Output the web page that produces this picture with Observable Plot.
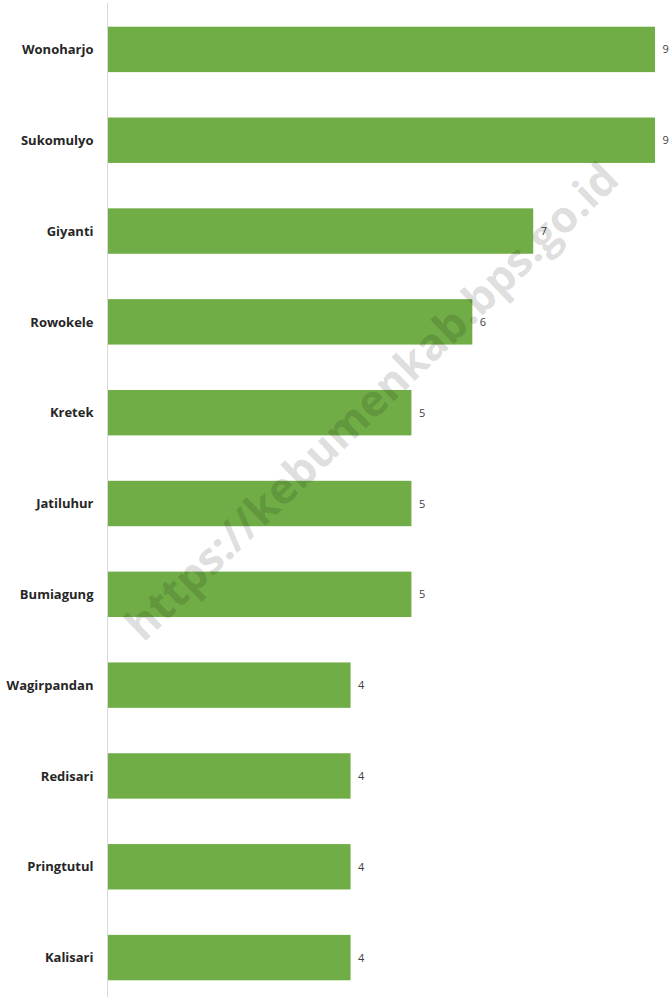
<!DOCTYPE html>
<html>
<head>
<meta charset="utf-8">
<script src="https://cdn.jsdelivr.net/npm/d3@7"></script>
<script src="https://cdn.jsdelivr.net/npm/@observablehq/plot@0.6"></script>
<style>
  html, body { margin: 0; padding: 0; background: #fff; }
  #chart svg { display: block; }
</style>
</head>
<body>
<div id="chart"></div>
<script>
const villages = ["Wonoharjo", "Sukomulyo", "Giyanti", "Rowokele", "Kretek", "Jatiluhur", "Bumiagung", "Wagirpandan", "Redisari", "Pringtutul", "Kalisari"];
const counts = [9, 9, 7, 6, 5, 5, 5, 4, 4, 4, 4];
const watermark = "https://kebumenkab.bps.go.id";

const data = villages.map((v, i) => ({village: v, count: counts[i]}));

const chart = Plot.plot({
  width: 669,
  height: 998,
  marginLeft: 107,
  marginRight: 14,
  marginTop: 3,
  marginBottom: 1,
  style: {fontFamily: "'Open Sans', sans-serif", background: "#fff"},
  x: {domain: [0, 9], axis: null},
  y: {domain: villages, range: [4, 1003], paddingInner: 0.5, paddingOuter: 0.25, round: false, label: null},
  marks: [
    Plot.barX(data, {x: "count", y: "village", fill: "#70AD47"}),
    Plot.ruleX([0], {stroke: "#d9d9d9", strokeWidth: 1}),
    Plot.axisY({tickSize: 0, tickPadding: 14, fontSize: 13, fontWeight: "bold", fill: "#262626", label: null}),
    Plot.text(data, {x: "count", y: "village", text: d => String(d.count), dx: 7, textAnchor: "start", fontSize: 11, fill: "#404040"}),
    Plot.text([watermark], {frameAnchor: "middle", dx: -9, dy: -98, rotate: -44, fontSize: 44, fontWeight: "bold", fill: "#000", fillOpacity: 0.15, text: d => d})
  ]
});
document.getElementById("chart").append(chart);
</script>
</body>
</html>
